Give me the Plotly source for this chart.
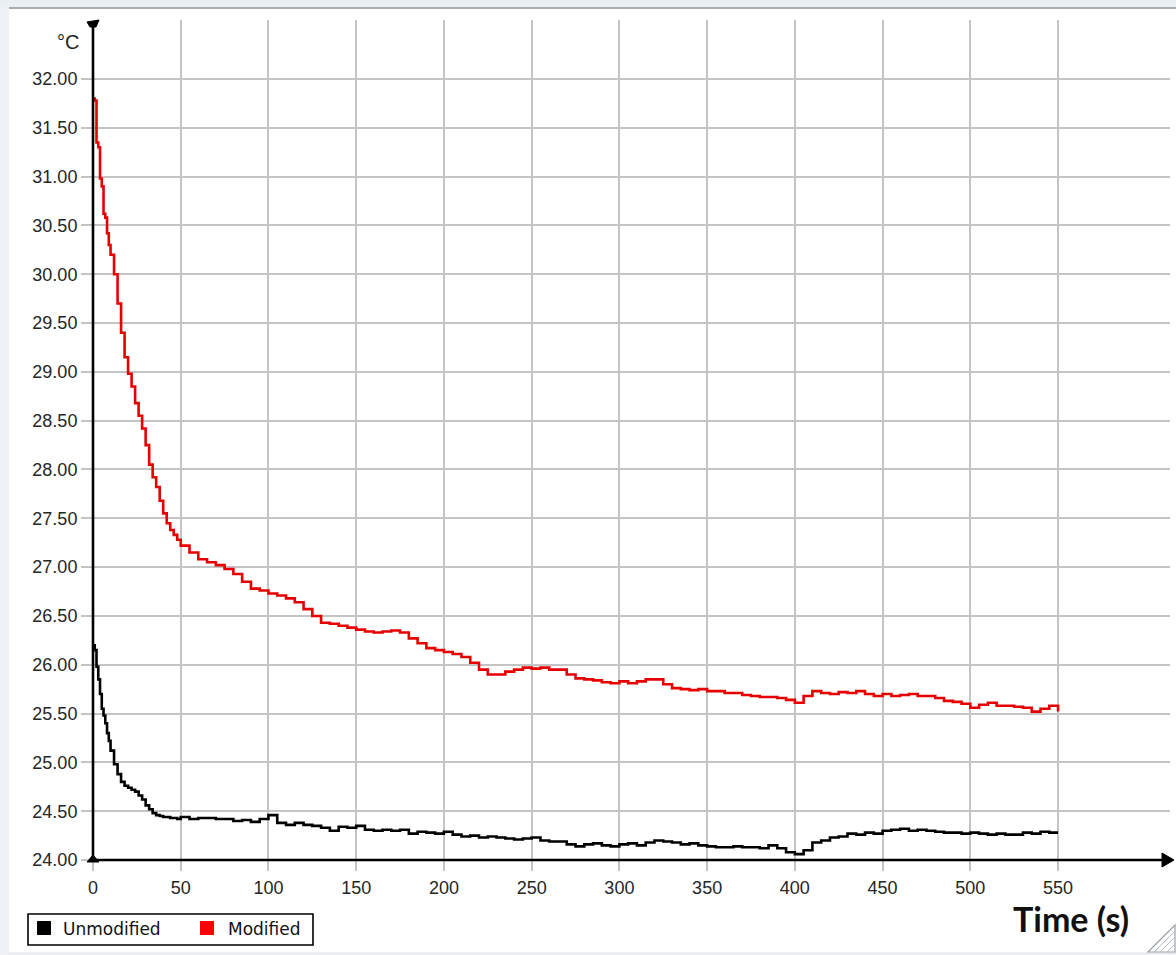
import plotly.graph_objects as go

# Temperature log, 0-550 s
time_s = [0, 1, 2, 3, 4, 5, 6, 7, 8, 9, 10, 12, 14, 16, 18, 20, 22, 24, 26, 28,
          30, 32, 34, 36, 38, 40, 42, 44, 46, 48, 50, 55, 60, 65, 70, 75, 80, 85,
          90, 95, 100, 105, 110, 115, 120, 125, 130, 135, 140, 145, 150, 155, 160,
          165, 170, 175, 180, 185, 190, 195, 200, 205, 210, 215, 220, 225, 230,
          235, 240, 245, 250, 255, 260, 265, 270, 275, 280, 285, 290, 295, 300,
          305, 310, 315, 320, 325, 330, 335, 340, 345, 350, 355, 360, 365, 370,
          375, 380, 385, 390, 395, 400, 405, 410, 415, 420, 425, 430, 435, 440,
          445, 450, 455, 460, 465, 470, 475, 480, 485, 490, 495, 500, 505, 510,
          515, 520, 525, 530, 535, 540, 545, 550]

unmodified = [26.20, 26.15, 25.98, 25.85, 25.70, 25.55, 25.48, 25.40, 25.30, 25.22,
              25.12, 24.98, 24.88, 24.80, 24.76, 24.74, 24.72, 24.70, 24.66, 24.62,
              24.56, 24.52, 24.48, 24.46, 24.45, 24.44, 24.44, 24.43, 24.43, 24.42,
              24.44, 24.42, 24.43, 24.43, 24.42, 24.42, 24.40, 24.41, 24.39, 24.42,
              24.46, 24.38, 24.36, 24.38, 24.36, 24.35, 24.33, 24.30, 24.34, 24.33,
              24.35, 24.31, 24.30, 24.31, 24.30, 24.31, 24.27, 24.29, 24.28, 24.27,
              24.29, 24.26, 24.24, 24.25, 24.23, 24.24, 24.23, 24.22, 24.21, 24.22,
              24.23, 24.20, 24.19, 24.19, 24.16, 24.14, 24.16, 24.17, 24.15, 24.14,
              24.16, 24.17, 24.15, 24.18, 24.20, 24.19, 24.18, 24.16, 24.17, 24.15,
              24.14, 24.13, 24.13, 24.14, 24.13, 24.13, 24.12, 24.15, 24.12, 24.08,
              24.06, 24.10, 24.18, 24.20, 24.23, 24.24, 24.27, 24.26, 24.28, 24.27,
              24.30, 24.31, 24.32, 24.30, 24.31, 24.30, 24.29, 24.28, 24.28, 24.27,
              24.28, 24.27, 24.26, 24.27, 24.26, 24.26, 24.28, 24.27, 24.29, 24.28,
              24.28]

modified = [31.80, 31.78, 31.35, 31.30, 30.98, 30.90, 30.62, 30.58, 30.42, 30.30,
            30.20, 30.00, 29.70, 29.40, 29.15, 28.98, 28.85, 28.68, 28.55, 28.42,
            28.25, 28.05, 27.92, 27.82, 27.68, 27.55, 27.45, 27.38, 27.33, 27.28,
            27.22, 27.15, 27.08, 27.05, 27.02, 26.98, 26.93, 26.85, 26.78, 26.76,
            26.73, 26.71, 26.68, 26.64, 26.57, 26.50, 26.43, 26.42, 26.40, 26.38,
            26.36, 26.34, 26.33, 26.34, 26.35, 26.33, 26.27, 26.22, 26.17, 26.15,
            26.13, 26.11, 26.08, 26.02, 25.95, 25.90, 25.90, 25.93, 25.95, 25.97,
            25.96, 25.97, 25.95, 25.95, 25.90, 25.86, 25.85, 25.84, 25.82, 25.81,
            25.83, 25.81, 25.83, 25.85, 25.85, 25.80, 25.76, 25.75, 25.74, 25.75,
            25.73, 25.73, 25.71, 25.71, 25.69, 25.68, 25.67, 25.67, 25.66, 25.64,
            25.61, 25.68, 25.73, 25.71, 25.70, 25.72, 25.71, 25.73, 25.70, 25.68,
            25.70, 25.68, 25.69, 25.70, 25.68, 25.68, 25.66, 25.63, 25.62, 25.60,
            25.56, 25.59, 25.61, 25.58, 25.58, 25.57, 25.56, 25.52, 25.55, 25.58,
            25.52]

x_ticks = [0, 50, 100, 150, 200, 250, 300, 350, 400, 450, 500, 550]
y_ticks = [24.0, 24.5, 25.0, 25.5, 26.0, 26.5, 27.0, 27.5, 28.0, 28.5, 29.0,
           29.5, 30.0, 30.5, 31.0, 31.5, 32.0]
y_tick_text = [f"{v:.2f}" for v in y_ticks]

series_names = ["Unmodified", "Modified"]
series_colors = ["#000000", "#e60000"]
legend_swatch = ["#000000", "#ff0000"]

W, H = 1176, 955
L, R, T, B = 93, 6, 20, 95
PW, PH = W - L - R, H - T - B


def px(x):
    return (x - L) / PW


def py(y):
    return (H - B - y) / PH


GRID = "#c4c4c4"
TICK_FONT = dict(family="Liberation Sans, Arial, sans-serif", size=18, color="#262626")

fig = go.Figure()
for name, ys, col in zip(series_names, [unmodified, modified], series_colors):
    fig.add_trace(go.Scatter(x=time_s, y=ys, name=name, mode="lines",
                             line=dict(color=col, width=2.6, shape="hv"),
                             showlegend=False))

fig.update_layout(
    width=W, height=H,
    margin=dict(l=L, r=R, t=T, b=B),
    paper_bgcolor="white", plot_bgcolor="white",
    font=TICK_FONT,
    xaxis=dict(range=[0, 613.8], tickvals=x_ticks, ticktext=[str(v) for v in x_ticks],
               showgrid=True, gridcolor=GRID, gridwidth=1.5, zeroline=False,
               showline=False, ticks="outside", ticklen=10, tickwidth=1.5,
               tickcolor=GRID, ticklabelstandoff=1, tickfont=TICK_FONT),
    yaxis=dict(range=[24, 32.604], tickvals=y_ticks, ticktext=y_tick_text,
               showgrid=True, gridcolor=GRID, gridwidth=1.5, zeroline=False,
               showline=False, ticks="outside", ticklen=11, tickwidth=1.5,
               tickcolor=GRID, tickfont=TICK_FONT),
)

shapes = []
# window frame
shapes.append(dict(type="rect", xref="paper", yref="paper", x0=px(0), x1=px(9),
                   y0=py(955), y1=py(0), fillcolor="#eef2f7", line_width=0, layer="below"))
shapes.append(dict(type="rect", xref="paper", yref="paper", x0=px(0), x1=px(1176),
                   y0=py(7), y1=py(0), fillcolor="#eaeff4", line_width=0, layer="below"))
shapes.append(dict(type="line", xref="paper", yref="paper", x0=px(9), x1=px(1176),
                   y0=py(8), y1=py(8), line=dict(color="#a8adb2", width=2)))
shapes.append(dict(type="line", xref="paper", yref="paper", x0=px(9), x1=px(1176),
                   y0=py(953.5), y1=py(953.5), line=dict(color="#e4e8ee", width=2)))
# axes with arrow heads
shapes.append(dict(type="line", xref="paper", yref="paper", x0=px(93), x1=px(1165),
                   y0=py(860), y1=py(860), line=dict(color="black", width=2.6)))
shapes.append(dict(type="line", xref="paper", yref="paper", x0=px(93), x1=px(93),
                   y0=py(860), y1=py(24), line=dict(color="black", width=2.6)))
shapes.append(dict(type="path", xref="paper", yref="paper",
                   path=f"M {px(1162)} {py(853)} L {px(1174)} {py(860)} L {px(1162)} {py(867)} Z",
                   fillcolor="black", line=dict(color="black", width=1)))
shapes.append(dict(type="path", xref="paper", yref="paper",
                   path=f"M {px(87)} {py(22)} L {px(99)} {py(20)} L {px(96)} {py(27)} L {px(90)} {py(27)} Z",
                   fillcolor="black", line=dict(color="black", width=1)))
shapes.append(dict(type="path", xref="paper", yref="paper",
                   path=f"M {px(87)} {py(862)} L {px(93)} {py(855)} L {px(99)} {py(862)} Z",
                   fillcolor="black", line=dict(color="black", width=1)))
# legend box
shapes.append(dict(type="rect", xref="paper", yref="paper", x0=px(28), x1=px(313),
                   y0=py(945), y1=py(914), fillcolor="white",
                   line=dict(color="black", width=1.6)))
shapes.append(dict(type="rect", xref="paper", yref="paper", x0=px(37), x1=px(51),
                   y0=py(935), y1=py(921), fillcolor=legend_swatch[0], line_width=0))
shapes.append(dict(type="rect", xref="paper", yref="paper", x0=px(200), x1=px(214),
                   y0=py(935), y1=py(921), fillcolor=legend_swatch[1], line_width=0))
# resize grip
shapes.append(dict(type="path", xref="paper", yref="paper",
                   path=f"M {px(1148)} {py(952)} L {px(1175)} {py(925)} L {px(1175)} {py(952)} Z",
                   fillcolor="rgba(0,0,0,0)", line=dict(color="#9aa0a6", width=1.2)))
for k in (8, 15, 21):
    shapes.append(dict(type="line", xref="paper", yref="paper",
                       x0=px(1175 - k), x1=px(1175), y0=py(952), y1=py(952 - k),
                       line=dict(color="#b8bdc2", width=1)))
fig.update_layout(shapes=shapes)

annotations = [
    dict(text="°C", xref="paper", yref="paper", x=px(81), y=py(42), xanchor="right",
         yanchor="middle", showarrow=False,
         font=dict(family="Liberation Sans, Arial, sans-serif", size=20, color="#222222")),
    dict(text="<b>Time (s)</b>", xref="paper", yref="paper", x=px(1071), y=py(918),
         xanchor="center", yanchor="middle", showarrow=False,
         font=dict(family="Lato, sans-serif", size=34, color="#111111")),
    dict(text=series_names[0], xref="paper", yref="paper", x=px(61), y=py(929),
         xanchor="left", yanchor="middle", showarrow=False,
         font=dict(family="DejaVu Sans, Verdana, sans-serif", size=17, color="#111111")),
    dict(text=series_names[1], xref="paper", yref="paper", x=px(226), y=py(929),
         xanchor="left", yanchor="middle", showarrow=False,
         font=dict(family="DejaVu Sans, Verdana, sans-serif", size=17, color="#111111")),
]
fig.update_layout(annotations=annotations)

fig.write_html("out.html")
